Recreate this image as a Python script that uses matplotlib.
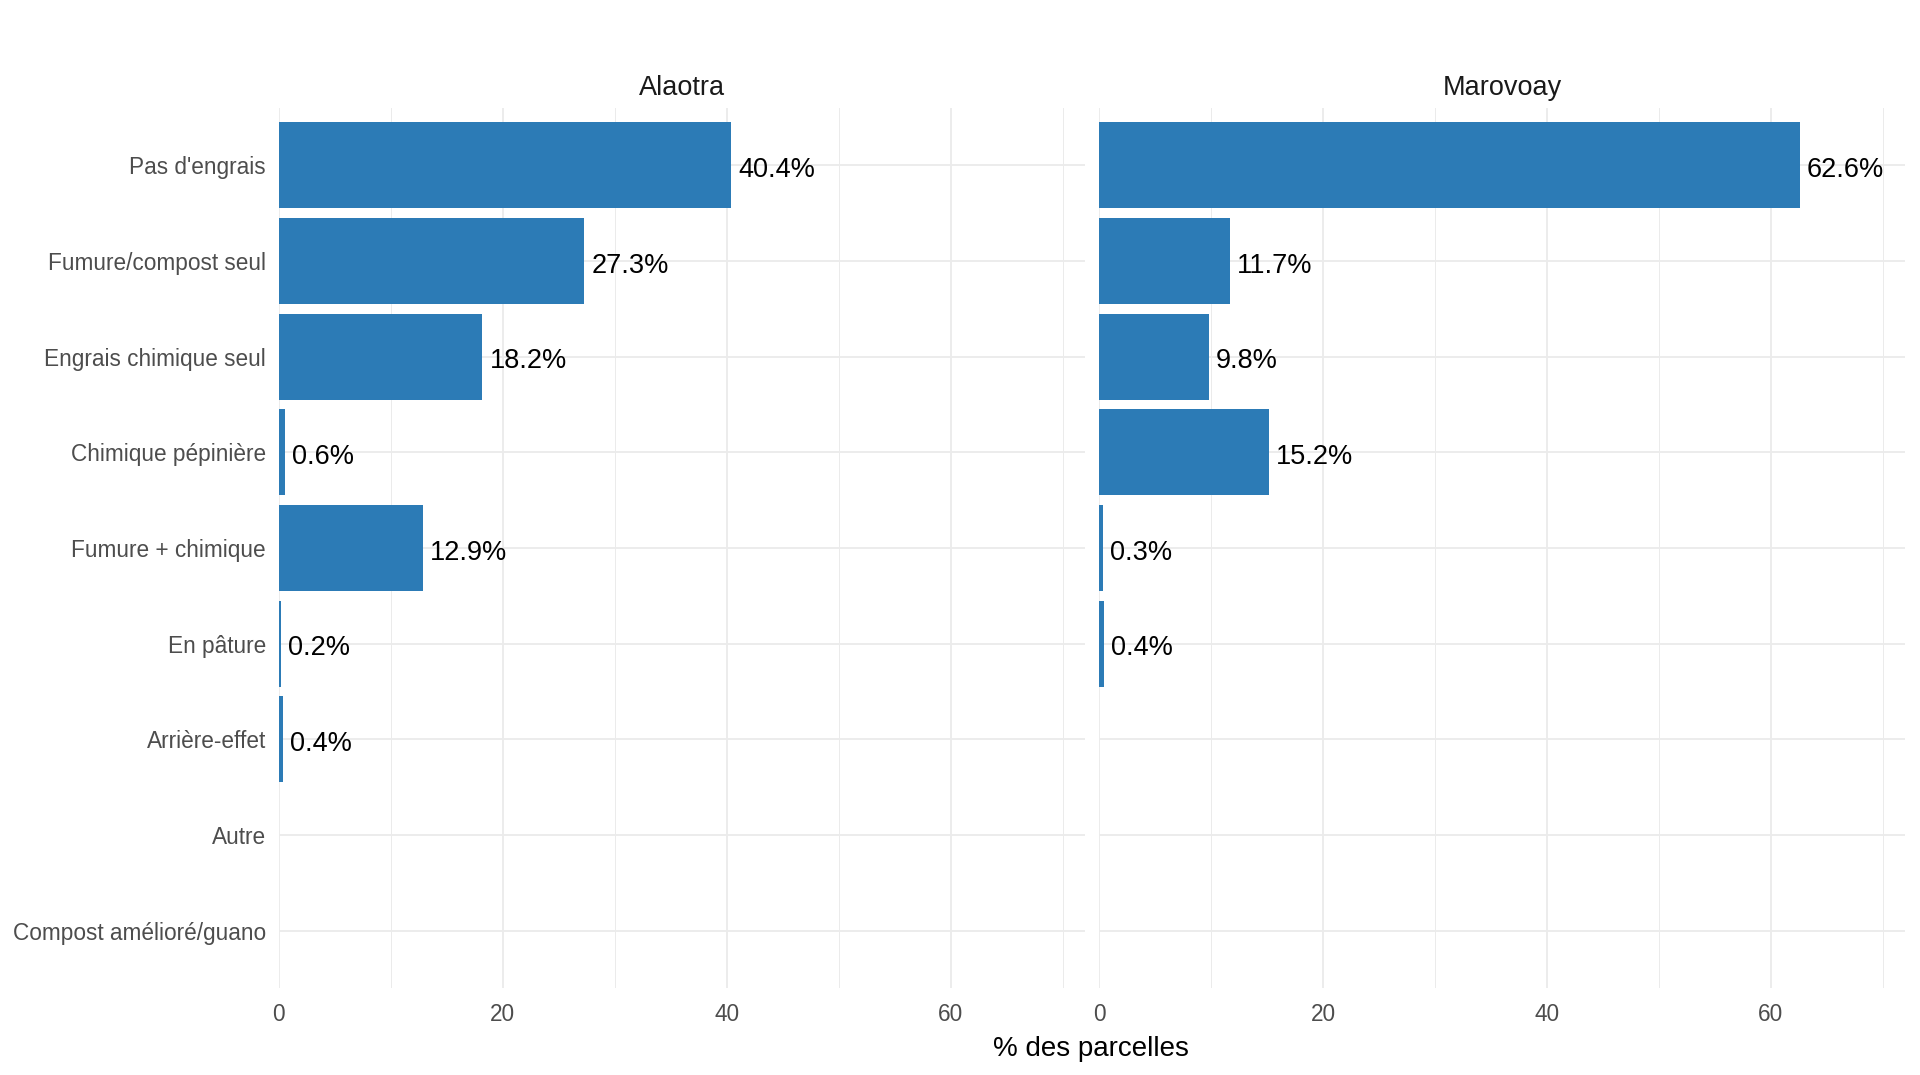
import matplotlib
matplotlib.use("Agg")
import matplotlib.pyplot as plt
import numpy as np

plt.rcParams['font.family'] = ['Liberation Sans', 'DejaVu Sans']

categories = ["Pas d'engrais", "Fumure/compost seul", "Engrais chimique seul",
              "Chimique pépinière", "Fumure + chimique", "En pâture",
              "Arrière-effet", "Autre", "Compost amélioré/guano"]
panels = ["Alaotra", "Marovoay"]
alaotra = [40.4, 27.3, 18.2, 0.6, 12.9, 0.2, 0.4, None, None]
marovoay = [62.6, 11.7, 9.8, 15.2, 0.3, 0.4, None, None, None]
series = [alaotra, marovoay]
x_ticks = [0, 20, 40, 60]
x_minor = [10, 30, 50, 70]
x_title = "% des parcelles"

bar_color = "#2C7BB6"
grid_color = "#EBEBEB"
tick_color = "#4D4D4D"

fig = plt.figure(figsize=(19.2, 10.75), dpi=100)
axes_pos = [[278.6 / 1920, 1 - 988 / 1075, 806.4 / 1920, 880 / 1075],
            [1099.3 / 1920, 1 - 988 / 1075, 805.7 / 1920, 880 / 1075]]

n = len(categories)
ypos = np.arange(n)

for i, (name, vals) in enumerate(zip(panels, series)):
    ax = fig.add_axes(axes_pos[i])
    ax.set_xlim(0, 72)
    ax.set_ylim(n - 1 + 0.6, -0.6)
    for s in ax.spines.values():
        s.set_visible(False)
    ax.set_xticks(x_ticks)
    ax.set_xticks(x_minor, minor=True)
    ax.set_yticks(ypos)
    ax.grid(True, which='major', axis='both', color=grid_color, linewidth=1.3, zorder=0)
    ax.grid(True, which='minor', axis='x', color=grid_color, linewidth=0.7, zorder=0)
    ax.set_axisbelow(True)
    ax.tick_params(axis='both', which='both', length=0)
    ax.tick_params(axis='x', pad=11, labelsize=16.3, labelcolor=tick_color)
    ax.tick_params(axis='y', pad=9, labelsize=16.3, labelcolor=tick_color)
    if i == 0:
        ax.set_yticklabels(categories)
        for t in ax.get_yticklabels():
            t.set_va('center_baseline')
    else:
        ax.set_yticklabels([])
    for y, v in zip(ypos, vals):
        if v is None:
            continue
        ax.barh(y, v, height=0.9, color=bar_color, zorder=2)
        ax.annotate(f"{v:.1f}%", xy=(v, y), xytext=(5, -1.2), textcoords='offset points',
                    ha='left', va='center_baseline', fontsize=19.5, color='black', zorder=3)
    ax.text(0.5, 1.0265, name, transform=ax.transAxes, ha='center', va='center_baseline',
            fontsize=19.5, color='#1A1A1A')

fig.text(1091 / 1920, 1 - 1046 / 1075, x_title, ha='center', va='center_baseline',
         fontsize=20, color='black')

fig.savefig("out.png", dpi=100, facecolor='white')
